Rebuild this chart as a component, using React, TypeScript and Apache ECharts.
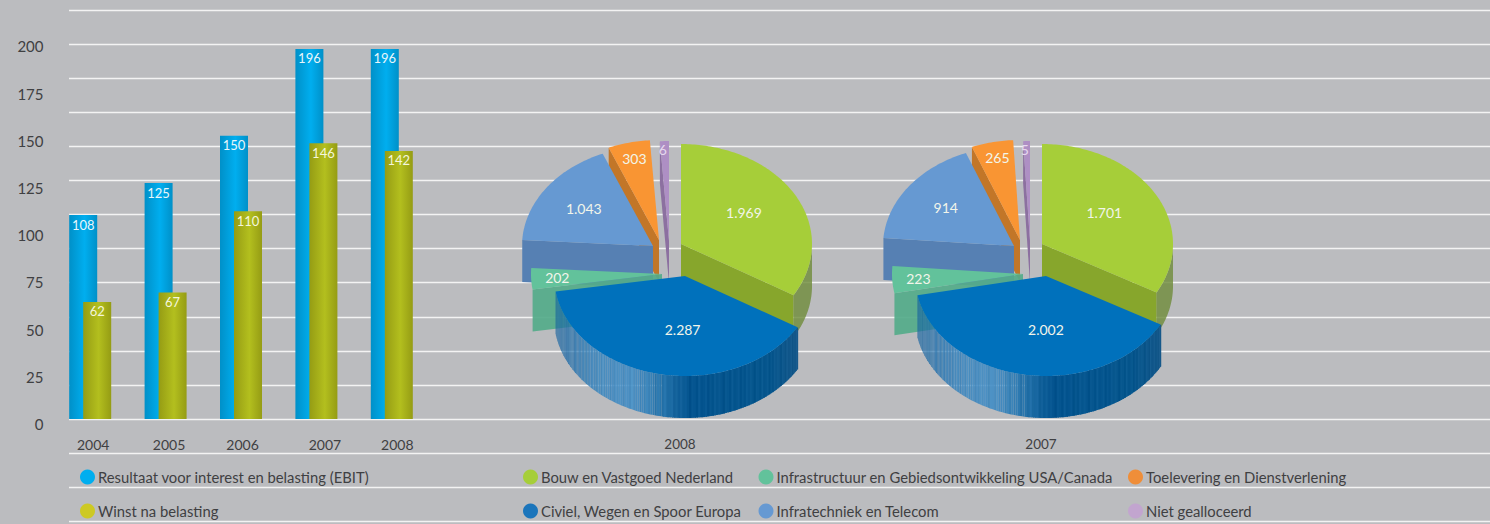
import React, { useEffect, useRef } from "react";
import * as echarts from "echarts";

const years = ["2004", "2005", "2006", "2007", "2008"];
const ebit = [108, 125, 150, 196, 196];
const winst = [62, 67, 110, 146, 142];
const yearNudge = [3, 3.5, 1.5, 8.5, 5.5];

const pieYears = ["2008", "2007"];
const sectors = [
  "Bouw en Vastgoed Nederland",
  "Civiel, Wegen en Spoor Europa",
  "Infrastructuur en Gebiedsontwikkeling USA/Canada",
  "Infratechniek en Telecom",
  "Toelevering en Dienstverlening",
  "Niet gealloceerd",
];
const values2008 = [1969, 2287, 202, 1043, 303, 6];
const values2007 = [1701, 2002, 223, 914, 265, 5];
const pieValues = [values2008, values2007];

const topColors = ["#a6ce39", "#0071bc", "#62c29b", "#6699d2", "#f99533", "#ae8fc4"];
const cutColors = ["#87a62c", "#0b5c98", "rgba(84,171,138,0.92)", "#5680b3", "#c27628", "#8c70a0"];
const legendColors = ["#a6ce39", "#1b75bb", "#62c29b", "#6699d2", "#ef8e39", "#c2a5cf"];

// explosion of each slice, and the label's place inside it
const explode = [[0, 0], [4, 32], [-19, 30], [-28, 2], [-22, -4], [-12, -3]];
const labelRadius = [0.57, 0.54, 0.8, 0.62, 0.85, 0.92];
const labelNudge = [[-2, -3], [11, 0], [0, 0], [-3, -2], [1, 1], [-2, 0]];
const drawOrder = [5, 4, 3, 2, 0, 1];
const pieCenterX = [681, 1042];
const pieCenterY = 244;
const RX = 131, RY = 100, DEPTH = 42;
const minAngles = [4, 3];
const FONT = "Lato";

// shading of the blue slice's rim, left to right: [position, r, g, b, alpha]
const rimStops = [
  [0, 24, 100, 160, 0.82],
  [0.18, 62, 135, 190, 0.9],
  [0.32, 66, 140, 195, 0.92],
  [0.45, 34, 112, 168, 1],
  [0.55, 4, 84, 143, 1],
  [0.88, 6, 86, 141, 1],
  [1, 22, 88, 138, 1],
];
const rimStreaks = [0, 5, -3, 2, -5, 4, 0, -2, 6, -4, 1, 3, -6, 0, 4];

function sliceAngles(vals: number[], minA: number) {
  const total = vals.reduce((a, b) => a + b, 0);
  const small = vals.filter((v) => (v / total) * 360 < minA);
  const bigTotal = total - small.reduce((a, b) => a + b, 0);
  const rest = 360 - small.length * minA;
  let cur = 0;
  return vals.map((v) => {
    const span = (v / total) * 360 < minA ? minA : (v / bigTotal) * rest;
    const s = [cur, cur + span];
    cur += span;
    return s;
  });
}
const pt = (cx: number, cy: number, deg: number, r = 1) => {
  const t = (deg * Math.PI) / 180;
  return [cx + RX * r * Math.sin(t), cy - RY * r * Math.cos(t)];
};
const arc = (cx: number, cy: number, a: number, b: number) => {
  const out: number[][] = [];
  const n = Math.max(2, Math.ceil(Math.abs(b - a)));
  for (let i = 0; i <= n; i++) out.push(pt(cx, cy, a + ((b - a) * i) / n));
  return out;
};
const dutch = (v: number) => String(v).replace(/\B(?=(\d{3})+$)/g, ".");

function rimColor(f: number, idx: number) {
  let i = 0;
  while (i < rimStops.length - 2 && f > rimStops[i + 1][0]) i++;
  const a = rimStops[i], b = rimStops[i + 1];
  const k = Math.min(1, Math.max(0, (f - a[0]) / (b[0] - a[0])));
  const s = rimStreaks[idx % rimStreaks.length];
  const c = [1, 2, 3].map((j) => Math.round(a[j] + (b[j] - a[j]) * k + s));
  const alpha = a[4] + (b[4] - a[4]) * k;
  return { fill: `rgba(${c[0]},${c[1]},${c[2]},${alpha.toFixed(2)})`, alpha };
}

function makeRender(slice: number) {
  return (params: any) => {
    const p = params.dataIndex;
    const vals = pieValues[p];
    const [a0, a1] = sliceAngles(vals, minAngles[p])[slice];
    const cx = pieCenterX[p] + explode[slice][0];
    const cy = pieCenterY + explode[slice][1];
    const children: any[] = [];
    const cut = (deg: number) => {
      const e = pt(cx, cy, deg);
      children.push({
        type: "polygon",
        shape: { points: [e, [cx, cy], [cx, cy + DEPTH], [e[0], e[1] + DEPTH]] },
        style: { fill: cutColors[slice] },
      });
    };
    if (a0 > 180 && a0 < 360) cut(a0);
    if (a1 > 0 && a1 < 180) cut(a1);
    const s0 = Math.max(a0, 90), s1 = Math.min(a1, 270);
    if (s1 > s0 && slice === 0) {
      const topArc = arc(cx, cy, s0, s1);
      const low = topArc.map(([x, y]) => [x, y + DEPTH]).reverse();
      children.push({
        type: "polygon",
        shape: { points: topArc.concat(low) },
        style: { fill: "rgba(112,140,60,0.82)" },
      });
    }
    if (slice === 1) {
      // rim drawn strip by strip so that it keeps the reference's vertical streaks
      const pts = arc(cx, cy, s0, s1);
      const minX = Math.min(...pts.map((q) => q[0]));
      const maxX = Math.max(...pts.map((q) => q[0]));
      for (let i = 0; i < pts.length - 1; i++) {
        const q0 = pts[i], q1 = pts[i + 1];
        const f = ((q0[0] + q1[0]) / 2 - minX) / (maxX - minX);
        const { fill, alpha } = rimColor(f, i);
        const lap = alpha >= 1 ? 0.6 : 0;
        const a = [q0[0] + lap, q0[1]], b = [q1[0] - lap, q1[1]];
        children.push({
          type: "polygon",
          shape: { points: [a, b, [b[0], b[1] + DEPTH], [a[0], a[1] + DEPTH]] },
          style: { fill },
        });
      }
    }
    children.push({
      type: "polygon",
      shape: { points: [[cx, cy] as number[]].concat(arc(cx, cy, a0, a1)) },
      style: { fill: topColors[slice] },
    });
    const lp = pt(cx, cy, (a0 + a1) / 2, labelRadius[slice]);
    children.push({
      type: "text",
      style: {
        text: dutch(vals[slice]),
        x: lp[0] + labelNudge[slice][0],
        y: lp[1] + labelNudge[slice][1],
        fill: slice === 5 ? "#e6d9ee" : "#f2f5ea",
        fontSize: 14,
        fontFamily: FONT,
        align: "center",
        verticalAlign: "middle",
      },
    });
    return { type: "group", children };
  };
}

const barGradient = (edge: string, mid: string) =>
  new echarts.graphic.LinearGradient(0, 0, 1, 0, [
    { offset: 0, color: edge },
    { offset: 0.55, color: mid },
    { offset: 1, color: edge },
  ]);

const legendBase = (fontSize: number) => ({
  orient: "vertical" as const,
  padding: 0,
  itemWidth: 15,
  itemHeight: 15,
  itemGap: 19,
  top: 469.5,
  selectedMode: false,
  textStyle: { fontFamily: FONT, fontSize, color: "#3f4042", padding: [0, 0, 0, -2] },
});
const legendItem = (name: string) => ({
  name,
  icon: "circle",
  itemStyle: { color: legendColors[sectors.indexOf(name)] },
});

export default function App() {
  const ref = useRef<HTMLDivElement>(null);
  useEffect(() => {
    document.body.style.margin = "0";
    const chart = echarts.init(ref.current!, null, { renderer: "svg" });
    const rich: any = {};
    yearNudge.forEach((n, i) => {
      rich["y" + i] = { padding: [0, 0, 0, n * 2], fontFamily: FONT, fontSize: 14, color: "#3f4042" };
    });
    chart.setOption({
      animation: false,
      backgroundColor: "#bbbcbf",
      grid: [
        { left: 69, right: 0, top: 10.4, height: 510.6 },
        { left: 52.5, width: 377, top: 41.4, height: 377.6 },
      ],
      xAxis: [
        { type: "value", gridIndex: 0, show: false, min: 0, max: 1 },
        {
          type: "category",
          gridIndex: 1,
          data: years,
          axisLine: { show: false },
          axisTick: { show: false },
          axisLabel: {
            margin: 18,
            formatter: (v: string) => `{y${years.indexOf(v)}|${v}}`,
            rich,
          },
        },
      ],
      yAxis: [
        {
          type: "value",
          gridIndex: 0,
          min: 0,
          max: 15,
          interval: 1,
          axisLine: { show: false },
          axisTick: { show: false },
          axisLabel: { show: false },
          splitLine: { show: true, lineStyle: { color: "#f3f3f3", width: 1.4 } },
        },
        {
          type: "value",
          gridIndex: 1,
          min: 0,
          max: 200,
          interval: 25,
          axisLine: { show: false },
          axisTick: { show: false },
          splitLine: { show: false },
          axisLabel: {
            margin: 9,
            formatter: (v: number) => `{n|${v}}`,
            rich: {
              n: { fontFamily: FONT, fontSize: 15, color: "#3f4042", padding: [10, 0, 0, 0] },
            },
          },
        },
      ],
      title: pieYears.map((t, i) => ({
        text: t,
        left: pieCenterX[i] - 1,
        top: 437,
        padding: 0,
        textAlign: "center",
        textStyle: { fontFamily: FONT, fontSize: 13.5, fontWeight: "normal", color: "#3f4042" },
      })),
      legend: [
        {
          ...legendBase(14.8),
          left: 80,
          data: [
            { name: "Resultaat voor interest en belasting (EBIT)", icon: "circle", itemStyle: { color: "#00aeef" } },
            { name: "Winst na belasting", icon: "circle", itemStyle: { color: "#cdc923" } },
          ],
        },
        { ...legendBase(14.8), left: 523, data: [sectors[0], sectors[1]].map(legendItem) },
        { ...legendBase(14.8), left: 758.5, data: [sectors[2], sectors[3]].map(legendItem) },
        { ...legendBase(14.8), left: 1128, data: [sectors[4], sectors[5]].map(legendItem) },
      ],
      series: [
        {
          type: "bar",
          name: "Resultaat voor interest en belasting (EBIT)",
          xAxisIndex: 1,
          yAxisIndex: 1,
          data: ebit,
          barWidth: 28,
          barGap: "-50%",
          itemStyle: { color: barGradient("#0090c8", "#00aeef") },
          label: { show: true, position: "insideTop", distance: 3, fontFamily: FONT, fontSize: 13, color: "#e8f6fb" },
        },
        {
          type: "bar",
          name: "Winst na belasting",
          xAxisIndex: 1,
          yAxisIndex: 1,
          data: winst,
          barWidth: 28,
          barGap: "-50%",
          itemStyle: { color: barGradient("#959c14", "#b3bf1e") },
          label: { show: true, position: "insideTop", distance: 3, fontFamily: FONT, fontSize: 13, color: "#f4f6dc" },
        },
        ...drawOrder.map((slice) => ({
          type: "custom",
          name: sectors[slice],
          coordinateSystem: "none",
          silent: true,
          data: pieValues.map((v) => v[slice]),
          renderItem: makeRender(slice),
        })),
      ],
    });
    return () => chart.dispose();
  }, []);
  return <div ref={ref} style={{ width: 1490, height: 524 }} />;
}
